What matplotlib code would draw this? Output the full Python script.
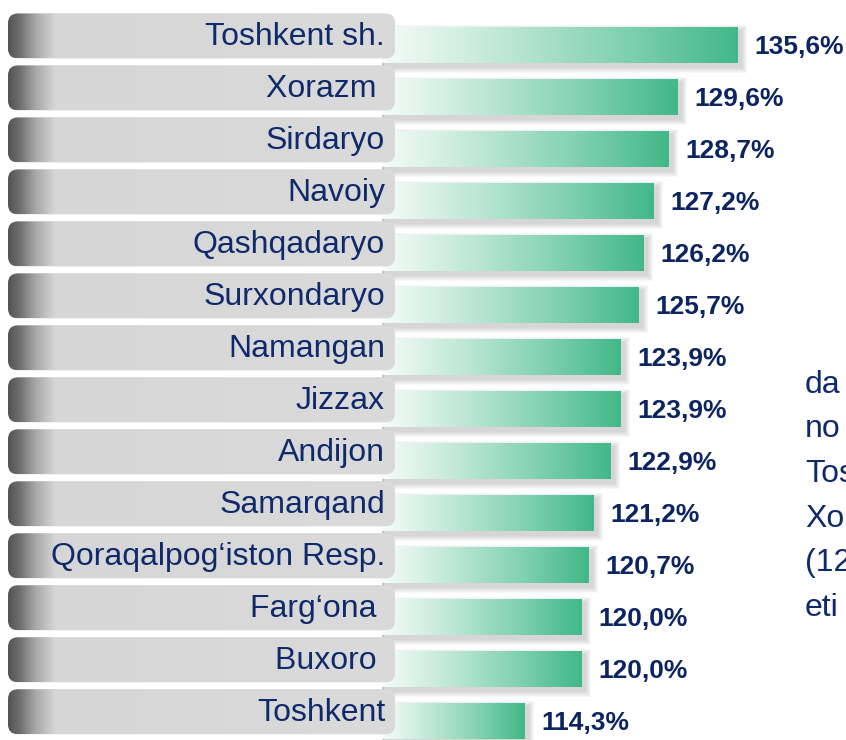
import matplotlib
matplotlib.use("Agg")
import matplotlib.pyplot as plt
import numpy as np
from matplotlib.colors import LinearSegmentedColormap
from matplotlib.patches import FancyBboxPatch, Rectangle

# — Données —
regions = ["Toshkent sh.", "Xorazm ", "Sirdaryo", "Navoiy", "Qashqadaryo",
           "Surxondaryo", "Namangan", "Jizzax", "Andijon", "Samarqand",
           "Qoraqalpog‘iston Resp.", "Farg‘ona ", "Buxoro ", "Toshkent"]
values = [135.6, 129.6, 128.7, 127.2, 126.2, 125.7, 123.9, 123.9, 122.9,
          121.2, 120.7, 120.0, 120.0, 114.3]
value_labels = ["135,6%", "129,6%", "128,7%", "127,2%", "126,2%", "125,7%",
                "123,9%", "123,9%", "122,9%", "121,2%", "120,7%", "120,0%",
                "120,0%", "114,3%"]
side_text = ["da", "no", "Tos", "Xo", "(12", "eti"]

base = 100.0
navy = "#0f2a6b"
navy_val = "#0c2461"

plt.rcParams['font.family'] = ['Liberation Sans', 'DejaVu Sans']

fig = plt.figure(figsize=(8.46, 7.40), dpi=100)
fig.patch.set_facecolor('white')
ax = fig.add_axes([0, 0, 1, 1])
ax.set_xlim(61.8, 146.4)
ax.set_ylim(13.37, -0.865)
ax.axis('off')

px_x = 0.1          # 1 px en unités x
px_y = 1 / 52.0     # 1 px en unités de ligne
bar_h = 36 * px_y

green = LinearSegmentedColormap.from_list(
    "grn", ["#f6fcf9", "#bfe8d6", "#84d2b2", "#42b888"])
grey = LinearSegmentedColormap.from_list(
    "gry", [(0, "#555555"), (0.03, "#707070"), (0.07, "#a8a8a8"),
            (0.12, "#d6d6d6"), (1, "#dadada")])
grad = np.linspace(0, 1, 256).reshape(1, -1)

# ligne verticale de l'axe
ax.plot([base + 0.1, base + 0.1], [-0.6, 13.4], color="#d4d4d4", lw=1, zorder=1)

box_left, box_right = 62.6, 101.3
box_h = 45 * px_y
box_off = -9 * px_y

for i, (reg, val, lab) in enumerate(zip(regions, values, value_labels)):
    # ombre des barres
    for k in range(6):
        g = (k + 1) * 2
        ax.add_patch(Rectangle((base, i - bar_h / 2 + (4 - g / 2) * px_y),
                               val - base + (3 + g / 2) * px_x,
                               bar_h + g * px_y,
                               facecolor="#808080", alpha=0.06,
                               edgecolor="none", zorder=2))
    # barre en dégradé
    ax.imshow(grad, cmap=green, aspect='auto', zorder=3,
              extent=[base, val, i + bar_h / 2, i - bar_h / 2])

    # boîte d'étiquette grise
    cy = i + box_off
    box = FancyBboxPatch((box_left, cy - box_h / 2), box_right - box_left, box_h,
                         boxstyle="round,pad=0,rounding_size=1.0",
                         mutation_aspect=px_y / px_x,
                         facecolor="#d9d9d9", edgecolor="none", zorder=4)
    ax.add_patch(box)
    im = ax.imshow(grad, cmap=grey, aspect='auto', zorder=5,
                   extent=[box_left, box_right, cy + box_h / 2, cy - box_h / 2])
    im.set_clip_path(box)

    ax.text(100.3, cy + 1 * px_y, reg, ha='right', va='center',
            fontsize=23, color=navy, zorder=6)
    ax.text(val + 1.6, i + 2 * px_y, lab, ha='left', va='center',
            fontsize=19, fontweight='bold', color=navy_val, zorder=6)

# texte coupé à droite
for j, t in enumerate(side_text):
    ax.text(142.3, (385 + 44.6 * j - 45) * px_y, t, ha='left', va='center',
            fontsize=23, color=navy, zorder=6)

ax.set_ylim(13.37, -0.865)
ax.set_xlim(61.8, 146.4)

fig.savefig("out.png", dpi=100, facecolor='white')
